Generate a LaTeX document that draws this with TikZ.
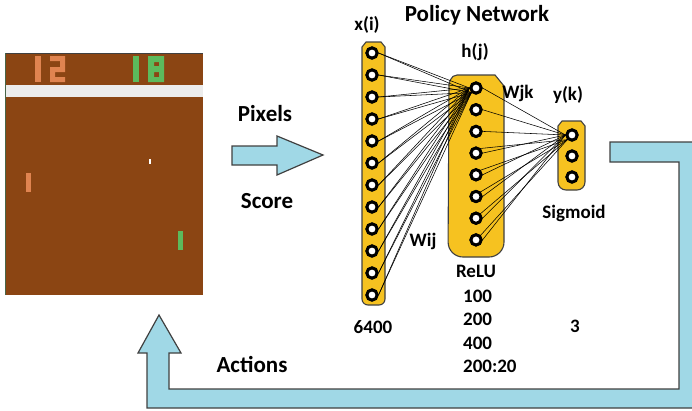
\documentclass[tikz,border=0pt]{standalone}
\usepackage{fontspec}
\setmainfont{Carlito}
\definecolor{pongbrown}{RGB}{139,69,19}
\definecolor{pongorange}{RGB}{224,132,80}
\definecolor{ponggreen}{RGB}{92,186,92}
\definecolor{pongband}{RGB}{236,236,236}
\definecolor{gold}{RGB}{246,194,32}
\definecolor{outline}{RGB}{64,64,64}
\definecolor{skyarrow}{RGB}{160,216,230}
\tikzset{
  lbl/.style={font=\fontsize{19}{19}\selectfont\bfseries, inner sep=0pt, anchor=base},
  biglbl/.style={font=\fontsize{23}{23}\selectfont\bfseries, inner sep=0pt, anchor=base},
  neuron/.style={circle, draw=black, fill=white, line width=2.9pt, minimum size=10.2pt, inner sep=0pt},
  layer/.style={fill=gold, draw=outline, line width=1.1pt},
  wire/.style={draw=black, line width=0.55pt},
  flowarrow/.style={fill=skyarrow, draw=outline, line width=1.2pt, line join=miter},
}
\begin{document}
\begin{tikzpicture}[x=1pt, y=-1pt]
\useasboundingbox (0,0) rectangle (692,410);
\clip (0,0) rectangle (692,410);

% ---- Pong screen ----
\fill[pongbrown] (5,53) rectangle (203,295);
\fill[pongband] (5,85) rectangle (203,97);
\draw[outline, line width=1.2pt] (5,53.5) -- (203,53.5);
\draw[outline!70!ponggreen, line width=0.8pt] (5.4,53) -- (5.4,295);
% score digits
\fill[pongorange] (35,56) rectangle (41,82);
\fill[pongorange] (50,56) rectangle (65,61)
                  (60,56) rectangle (65,72)
                  (50,67) rectangle (65,72)
                  (50,67) rectangle (55,82)
                  (50,77) rectangle (65,82);
\fill[ponggreen] (133,56) rectangle (139,82);
\fill[ponggreen, even odd rule] (148,56) rectangle (164,82)
                  (154,62) rectangle (159,66)
                  (154,72) rectangle (159,77);
% paddles and ball
\fill[pongorange] (26,173) rectangle (31,192);
\fill[ponggreen] (178,231) rectangle (183,250);
\fill[white] (149,159) rectangle (151,164);

% ---- input arrow ----
\filldraw[flowarrow] (232,146) -- (277,146) -- (277,136) -- (323,155)
  -- (277,175) -- (277,165) -- (232,165) -- cycle;
\node[biglbl] (pixels) at (265,121) {Pixels};
\node[biglbl] (score) at (267,208) {Score};

% ---- feedback arrow ----
\filldraw[flowarrow] (610,142) -- (700,142) -- (700,408) -- (147,408)
  -- (147,353) -- (138,353) -- (159,315) -- (181,353) -- (169,353)
  -- (169,389) -- (679,389) -- (679,162) -- (610,162) -- cycle;
\node[biglbl] (actions) at (252,372) {Actions};

% ---- layer bars ----
\filldraw[layer] (362,47) -- (366,42) -- (381,42) -- (385,47)
  [rounded corners=6pt] -- (385,305) -- (362,305) [sharp corners] -- cycle;
\filldraw[layer] (449,84) [rounded corners=5pt] -- (452,75) [sharp corners] -- (495,75) -- (504,86)
  [rounded corners=15pt] -- (504,257) -- (448,257) [sharp corners] -- cycle;
\filldraw[layer] (558,126) -- (562,121) -- (581,121) -- (585,126)
  [rounded corners=8pt] -- (585,190) -- (558,190) [sharp corners] -- cycle;

% ---- neurons ----
\foreach \i in {1,...,12}
  \node[neuron] (x\i) at (372,{53+22*(\i-1)}) {};
\foreach \j in {1,...,8}
  \node[neuron] (h\j) at (476,{88+21.7*(\j-1)}) {};
\foreach \k in {1,2,3}
  \node[neuron] (y\k) at (572,{135+21*(\k-1)}) {};

% ---- weights ----
\foreach \i in {1,...,12} {
  \draw[wire] (x\i.east) -- (h1.west);
  \draw[wire] (x\i.east) -- (h1.south west);
}
\foreach \j in {1,...,8}
  \draw[wire] (h\j.east) -- (y1.west);
\foreach \j in {4,...,8}
  \draw[wire] (h\j.north east) -- (y1.south west);

% neurons drawn again so that they sit on top of the wires
\foreach \i in {1,...,12}
  \node[neuron] at (x\i) {};
\foreach \j in {1,...,8}
  \node[neuron] at (h\j) {};
\foreach \k in {1,2,3}
  \node[neuron] at (y\k) {};

% ---- labels ----
\node[biglbl] (title) at (477,21) {Policy Network};
\node[lbl] (lx) at (367,30) {x(i)};
\node[lbl] (lh) at (475,57) {h(j)};
\node[lbl] (lwjk) at (518,98) {Wjk};
\node[lbl] (ly) at (568,100) {y(k)};
\node[lbl] (lsig) at (574,218) {Sigmoid};
\node[lbl] (lwij) at (423,246) {Wij};
\node[lbl] (lrelu) at (476,277) {ReLU};
\node[lbl, anchor=base west] (n100) at (463,302) {100};
\node[lbl, anchor=base west] (n200) at (463,325) {200};
\node[lbl, anchor=base west] (n400) at (463,349) {400};
\node[lbl, anchor=base west] (n20) at (463,372) {200:20};
\node[lbl] (n6400) at (373,333) {6400};
\node[lbl] (n3) at (575,332) {3};
\end{tikzpicture}
\end{document}
